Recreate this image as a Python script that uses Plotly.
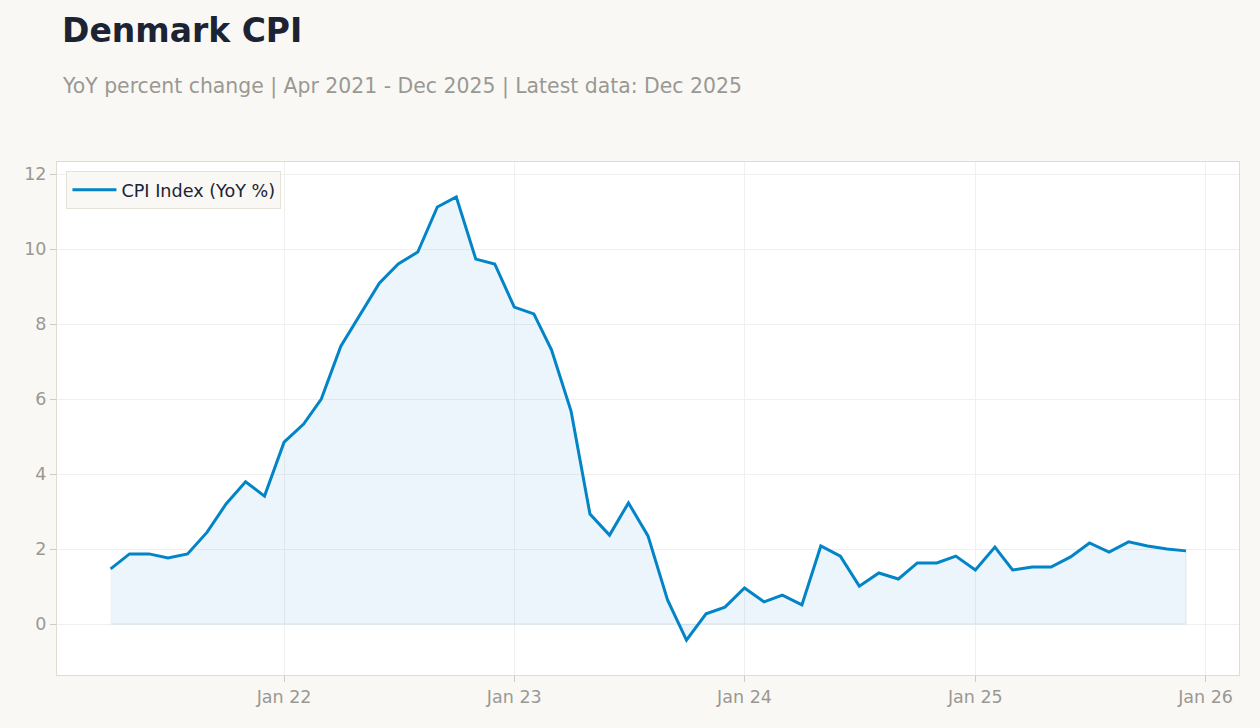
import plotly.graph_objects as go
import pandas as pd

months = pd.date_range("2021-04-01", "2025-12-01", freq="MS")
cpi_yoy = [
    1.47, 1.87, 1.87, 1.76, 1.87, 2.45, 3.20, 3.79, 3.41,
    4.85, 5.33, 6.00, 7.41, 8.24, 9.09, 9.60, 9.92, 11.12, 11.39, 9.73, 9.60,
    8.45, 8.27, 7.31, 5.68, 2.93, 2.37, 3.23, 2.35, 0.64, -0.43, 0.27, 0.45,
    0.96, 0.59, 0.77, 0.51, 2.08, 1.81, 1.01, 1.36, 1.20, 1.63, 1.63, 1.81,
    1.44, 2.05, 1.44, 1.52, 1.52, 1.79, 2.16, 1.92, 2.19, 2.08, 2.00, 1.95,
]
tick_vals = ["2022-01-01", "2023-01-01", "2024-01-01", "2025-01-01", "2026-01-01"]
tick_text = ["Jan 22", "Jan 23", "Jan 24", "Jan 25", "Jan 26"]

LINE = "#0284c7"
FONT = "DejaVu Sans"
GREY = "#9a9893"

fig = go.Figure()
fill_x = list(months) + list(months[::-1])
fill_y = list(cpi_yoy) + [0] * len(cpi_yoy)
fig.add_trace(go.Scatter(
    x=fill_x, y=fill_y, fill="toself", mode="lines",
    line=dict(color="rgba(2,132,199,0.12)", width=1),
    fillcolor="rgba(2,132,199,0.08)", showlegend=False, hoverinfo="skip",
))
fig.add_trace(go.Scatter(
    x=months, y=cpi_yoy, mode="lines", name="CPI Index (YoY %)",
    line=dict(color=LINE, width=3),
))

fig.update_layout(
    width=1260, height=728,
    paper_bgcolor="#f9f8f5", plot_bgcolor="#ffffff",
    margin=dict(l=57, r=21, t=162, b=53),
    font=dict(family=FONT, color=GREY, size=17.5),
    title=dict(
        text="<b>Denmark CPI</b>", x=62/1260, xref="container", xanchor="left",
        y=1 - 30/728, yref="container", yanchor="middle",
        font=dict(family=FONT, size=33, color="#1c2333"),
    ),
    annotations=[dict(
        text="YoY percent change | Apr 2021 - Dec 2025 | Latest data: Dec 2025",
        xref="paper", yref="paper", x=(60-57)/1182, y=1 + (162-86)/513,
        xanchor="left", yanchor="middle", showarrow=False,
        font=dict(family=FONT, size=20.4, color=GREY),
    )],
    legend=dict(
        x=0.008, y=0.983, xanchor="left", yanchor="top",
        bgcolor="#f9f8f5", bordercolor="#e6e2da", borderwidth=1,
        itemwidth=44,
        font=dict(family=FONT, size=17.6, color="#1c2333"),
    ),
    showlegend=True,
)
fig.update_xaxes(
    range=["2021-01-06", "2026-02-23"],
    tickvals=tick_vals, ticktext=tick_text,
    showgrid=True, gridcolor="#f0f0f0", gridwidth=1,
    ticks="outside", ticklen=6, tickcolor="#cfcac2",
    showline=True, linecolor="#e0dcd4", mirror=True,
    zeroline=False, tickfont=dict(size=17.5, color=GREY),
)
fig.update_yaxes(
    range=[-1.36, 12.32], tickvals=[0, 2, 4, 6, 8, 10, 12],
    showgrid=True, gridcolor="#f0f0f0", gridwidth=1,
    ticks="outside", ticklen=6, tickcolor="#cfcac2",
    showline=True, linecolor="#e0dcd4", mirror=True,
    zeroline=False, tickfont=dict(size=17.5, color=GREY),
)

fig.write_html("out.html")
